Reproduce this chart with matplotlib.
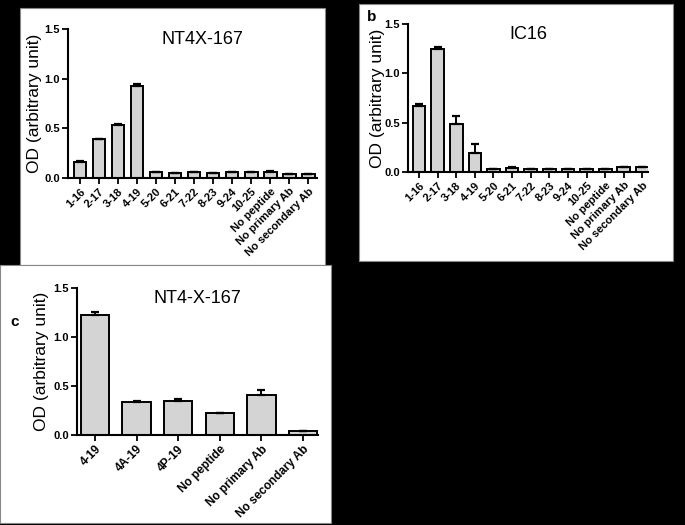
import numpy as np
import matplotlib
matplotlib.use("Agg")
import matplotlib.pyplot as plt
from matplotlib.patches import Rectangle

plt.rcParams["font.family"] = ["Liberation Sans", "DejaVu Sans"]

W, H = 685, 525

# panel a / b share the same peptide list
peptidos = [
    "1-16", "2-17", "3-18", "4-19", "5-20", "6-21", "7-22", "8-23",
    "9-24", "10-25", "No peptide", "No primary Ab", "No secondary Ab",
]
od_nt4x = [0.16, 0.39, 0.53, 0.93, 0.06, 0.05, 0.06, 0.05, 0.06, 0.06, 0.06, 0.04, 0.04]
err_nt4x = [0.01, 0.005, 0.015, 0.02, 0.005, 0.003, 0.005, 0.003, 0.003, 0.005, 0.008, 0.003, 0.003]

od_ic16 = [0.67, 1.25, 0.49, 0.19, 0.03, 0.04, 0.03, 0.03, 0.03, 0.03, 0.03, 0.05, 0.05]
err_ic16 = [0.02, 0.02, 0.08, 0.09, 0.003, 0.012, 0.003, 0.003, 0.003, 0.003, 0.003, 0.003, 0.003]

# panel c
variantes = ["4-19", "4A-19", "4P-19", "No peptide", "No primary Ab", "No secondary Ab"]
od_c = [1.22, 0.34, 0.35, 0.22, 0.41, 0.04]
err_c = [0.04, 0.012, 0.02, 0.006, 0.05, 0.003]


def px_rect(x0, y0, x1, y1):
    # pixel box (y from top) -> figure fraction
    return [x0 / W, 1 - y1 / H, (x1 - x0) / W, (y1 - y0) / H]


def painel(fig, box, x0, x1, y0, y1):
    fig.add_artist(Rectangle((box[0], box[1]), box[2], box[3],
                             transform=fig.transFigure, facecolor="white",
                             edgecolor="#888888", linewidth=0.8, zorder=0))
    ax = fig.add_axes(px_rect(x0, y0, x1, y1))
    return ax


def grafico(ax, nomes, valores, erros, titulo, xlim, fs_tick, titulo_x, label_x):
    x = np.arange(len(nomes))
    ax.bar(x, valores, width=0.68, color="#d4d4d4", edgecolor="black",
           linewidth=1.4, zorder=2)
    ax.errorbar(x, valores, yerr=[np.zeros(len(erros)), erros], fmt="none",
                ecolor="black", elinewidth=1.4, capsize=3, capthick=1.6, zorder=3)
    ax.set_xlim(*xlim)
    ax.set_ylim(0, 1.5)
    ax.set_yticks([0.0, 0.5, 1.0, 1.5])
    ax.set_yticklabels(["0.0", "0.5", "1.0", "1.5"], fontsize=8, fontweight="bold")
    ax.set_xticks(x)
    ax.set_xticklabels(nomes, rotation=45, ha="right", rotation_mode="anchor",
                       fontsize=fs_tick, fontweight="bold")
    for s in ["top", "right"]:
        ax.spines[s].set_visible(False)
    for s in ["left", "bottom"]:
        ax.spines[s].set_linewidth(1.5)
    ax.tick_params(direction="out", length=4, width=1.3, pad=2)
    ax.set_ylabel("OD (arbitrary unit)", fontsize=12.5)
    ax.yaxis.set_label_coords(label_x, 0.5)
    ax.set_facecolor("none")
    ax.text(titulo_x, 0.93, titulo, transform=ax.transAxes, ha="center",
            va="center", fontsize=13)


fig = plt.figure(figsize=(W / 100, H / 100), dpi=100, facecolor="black")

# a
ax_a = painel(fig, px_rect(20, 8, 325, 265), 68, 317, 29, 178)
grafico(ax_a, peptidos, od_nt4x, err_nt4x, "NT4X-167", (-0.63, 12.47), 8,
        0.54, -0.104)

# b
ax_b = painel(fig, px_rect(359, 4, 673, 261), 408, 648, 24, 172)
grafico(ax_b, peptidos, od_ic16, err_ic16, "IC16", (-0.59, 12.3), 8,
        0.5, -0.096)
fig.text(372 / W, 1 - 17 / H, "b", fontsize=11, fontweight="bold",
         ha="center", va="center")

# c
ax_c = painel(fig, px_rect(0, 265, 331, 523), 77, 318, 288, 435)
grafico(ax_c, variantes, od_c, err_c, "NT4-X-167", (-0.43, 5.36), 8.5,
        0.5, -0.116)
fig.text(15 / W, 1 - 322 / H, "c", fontsize=11, fontweight="bold",
         ha="center", va="center")

fig.savefig("out.png", dpi=100, facecolor="black")
